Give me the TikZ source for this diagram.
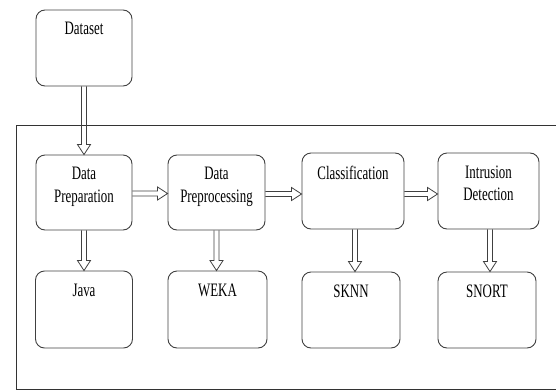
\documentclass[tikz,border=0pt]{standalone}
\usepackage{fontspec}
\newfontfamily\lblfont[FakeStretch=0.68]{Liberation Serif}
\usetikzlibrary{calc}
\begin{document}
\begin{tikzpicture}[x=1pt,y=-1pt,
  boxst/.style={draw=black!75, line width=0.9pt, rounded corners=9pt, minimum width=#1, inner sep=0pt},
  lbl/.style={font=\lblfont\fontsize{19}{22.5}\selectfont, align=center, inner sep=0pt, anchor=north},
  arrowline/.style={draw=black!75, line width=0.8pt, line join=miter},
  harrow/.style={arrowline, to path={let \p1=(\tikztostart), \p2=(\tikztotarget) in
    (\x1,\y1+2.5pt) -- (\x2-10pt,\y1+2.5pt) -- (\x2-10pt,\y1+6.5pt) -- (\x2,\y1)
    -- (\x2-10pt,\y1-6.5pt) -- (\x2-10pt,\y1-2.5pt) -- (\x1,\y1-2.5pt)}},
  varrow/.style={arrowline, to path={let \p1=(\tikztostart), \p2=(\tikztotarget) in
    (\x1-2.5pt,\y1) -- (\x1-2.5pt,\y2+10pt) -- (\x1-6.5pt,\y2+10pt) -- (\x1,\y2)
    -- (\x1+6.5pt,\y2+10pt) -- (\x1+2.5pt,\y2+10pt) -- (\x1+2.5pt,\y1)}},
  framest/.style={draw=black!80, line width=0.9pt}]
\useasboundingbox (0,0) rectangle (556,391);
% outer frame
\coordinate (f1) at (556,125);
\coordinate (f2) at (16,125);
\coordinate (f3) at (16,389);
\coordinate (f4) at (556,389);
\draw[framest] (f1) -- (f2) -- (f3) -- (f4);
% boxes
\node[boxst=96pt, minimum height=76pt] (ds) at (84,48) {};
\node[boxst=96pt, minimum height=75pt] (dp) at (84,192.5) {};
\node[boxst=97pt, minimum height=75pt] (pp) at (216.5,192.5) {};
\node[boxst=102pt, minimum height=76pt] (cl) at (353,191) {};
\node[boxst=101pt, minimum height=76pt] (id) at (488.5,191) {};
\node[boxst=97pt, minimum height=77pt] (jv) at (84,309.5) {};
\node[boxst=99pt, minimum height=77pt] (wk) at (217.5,309.5) {};
\node[boxst=98pt, minimum height=76pt] (sk) at (351,310) {};
\node[boxst=98pt, minimum height=76pt] (sn) at (487,310) {};
% labels
\node[lbl] (tds) at ([yshift=-12.5pt]ds.north) {Dataset};
\node[lbl] (tdp) at ([yshift=-12.5pt]dp.north) {Data\\Preparation};
\node[lbl] (tpp) at ([yshift=-12.5pt]pp.north) {Data\\Preprocessing};
\node[lbl] (tcl) at ([yshift=-13pt]cl.north) {Classification};
\node[lbl] (tid) at ([yshift=-13pt]id.north) {Intrusion\\Detection};
\node[lbl] (tjv) at ([yshift=-13pt]jv.north) {Java};
\node[lbl] (twk) at ([yshift=-13pt]wk.north) {WEKA};
\node[lbl] (tsk) at ([yshift=-13pt]sk.north) {SKNN};
\node[lbl] (tsn) at ([yshift=-13pt]sn.north) {SNORT};
% arrows
\draw[varrow] (ds.south -| dp.north) to (dp.north);
\draw[harrow] ([yshift=-1pt]dp.east) to ([yshift=-1pt]dp.east -| pp.west);
\draw[harrow] ([yshift=-1.5pt]pp.east) to ([yshift=-1.5pt]pp.east -| cl.west);
\draw[harrow] ([yshift=-3pt]cl.east) to ([yshift=-3pt]cl.east -| id.west);
\draw[varrow] (dp.south) to (dp.south |- jv.north);
\draw[varrow] (pp.south) to (pp.south |- wk.north);
\draw[varrow] ([xshift=2pt]cl.south) to ([xshift=2pt]cl.south |- sk.north);
\draw[varrow] ([xshift=1.5pt]id.south) to ([xshift=1.5pt]id.south |- sn.north);
\end{tikzpicture}
\end{document}
